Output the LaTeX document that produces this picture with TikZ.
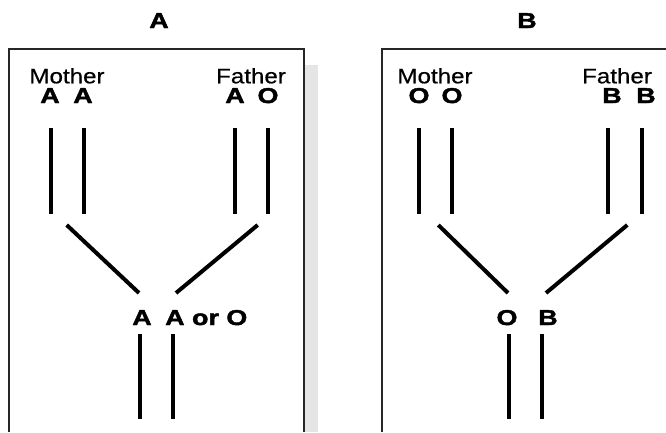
\documentclass[tikz,border=0pt]{standalone}
\usepackage{fontspec}
\setmainfont{Liberation Sans}[FakeStretch=1.15,FakeBold=0.6]
\newfontfamily\heavy{Liberation Sans Bold}[FakeStretch=1.25,FakeBold=2]
\begin{document}
\begin{tikzpicture}[x=1pt,y=-1pt,
  lbl/.style={inner sep=0pt,anchor=base,font=\fontsize{21}{21}\selectfont},
  allele/.style={inner sep=0pt,anchor=base,font=\heavy\fontsize{21.5}{21.5}\selectfont},
  chrom/.style={line width=4pt},
  frame/.style={line width=1.3pt,draw=black!85}]
\useasboundingbox (0,0) rectangle (666,432);
% titles
\node[allele] (tA) at (159,28) {A};
\node[allele] (tB) at (527,28) {B};
% frames
\fill[black!10] (305,65) rectangle (318,432);
\draw[frame] (9,432) -- (9,49) -- (304,49) -- (304,432);
\draw[frame] (382,432) -- (382,49) -- (666,49);
% ---------- panel A ----------
\node[lbl] (mA) at (67,83.3) {Mother};
\node[lbl] (fA) at (251,83.3) {Father};
\node[allele] (mA1) at (50,103) {A};
\node[allele] (mA2) at (83,103) {A};
\node[allele] (fA1) at (235,103) {A};
\node[allele] (fA2) at (268,103) {O};
\foreach \n/\x in {a1/51,a2/84,a3/235,a4/268}{
  \coordinate (\n t) at (\x,128);
  \coordinate (\n b) at (\x,214);
  \draw[chrom] (\n t) -- (\n b);
}
\coordinate (dAl1) at (66.7,225); \coordinate (dAl2) at (139,293);
\coordinate (dAr1) at (257.7,225); \coordinate (dAr2) at (176,293);
\draw[chrom] (dAl1) -- (dAl2);
\draw[chrom] (dAr1) -- (dAr2);
\node[allele] (cA1) at (142,325) {A};
\node[allele,anchor=base west] (cA2) at (165,325) {A or O};
\foreach \n/\x in {c1/140,c2/173.3}{
  \coordinate (\n t) at (\x,334);
  \coordinate (\n b) at (\x,419);
  \draw[chrom] (\n t) -- (\n b);
}
% ---------- panel B ----------
\node[lbl] (mB) at (435,83.3) {Mother};
\node[lbl] (fB) at (617,83.3) {Father};
\node[allele] (mB1) at (419,103) {O};
\node[allele] (mB2) at (452,103) {O};
\node[allele] (fB1) at (612,103) {B};
\node[allele] (fB2) at (646,103) {B};
\foreach \n/\x in {b1/419,b2/452,b3/608,b4/641.7}{
  \coordinate (\n t) at (\x,128);
  \coordinate (\n b) at (\x,214);
  \draw[chrom] (\n t) -- (\n b);
}
\coordinate (dBl1) at (438.3,225); \coordinate (dBl2) at (508,293);
\coordinate (dBr1) at (627.3,225); \coordinate (dBr2) at (546,293);
\draw[chrom] (dBl1) -- (dBl2);
\draw[chrom] (dBr1) -- (dBr2);
\node[allele] (cB1) at (507,325) {O};
\node[allele] (cB2) at (548,325) {B};
\foreach \n/\x in {d1/509,d2/541.7}{
  \coordinate (\n t) at (\x,334);
  \coordinate (\n b) at (\x,419);
  \draw[chrom] (\n t) -- (\n b);
}
\end{tikzpicture}
\end{document}
